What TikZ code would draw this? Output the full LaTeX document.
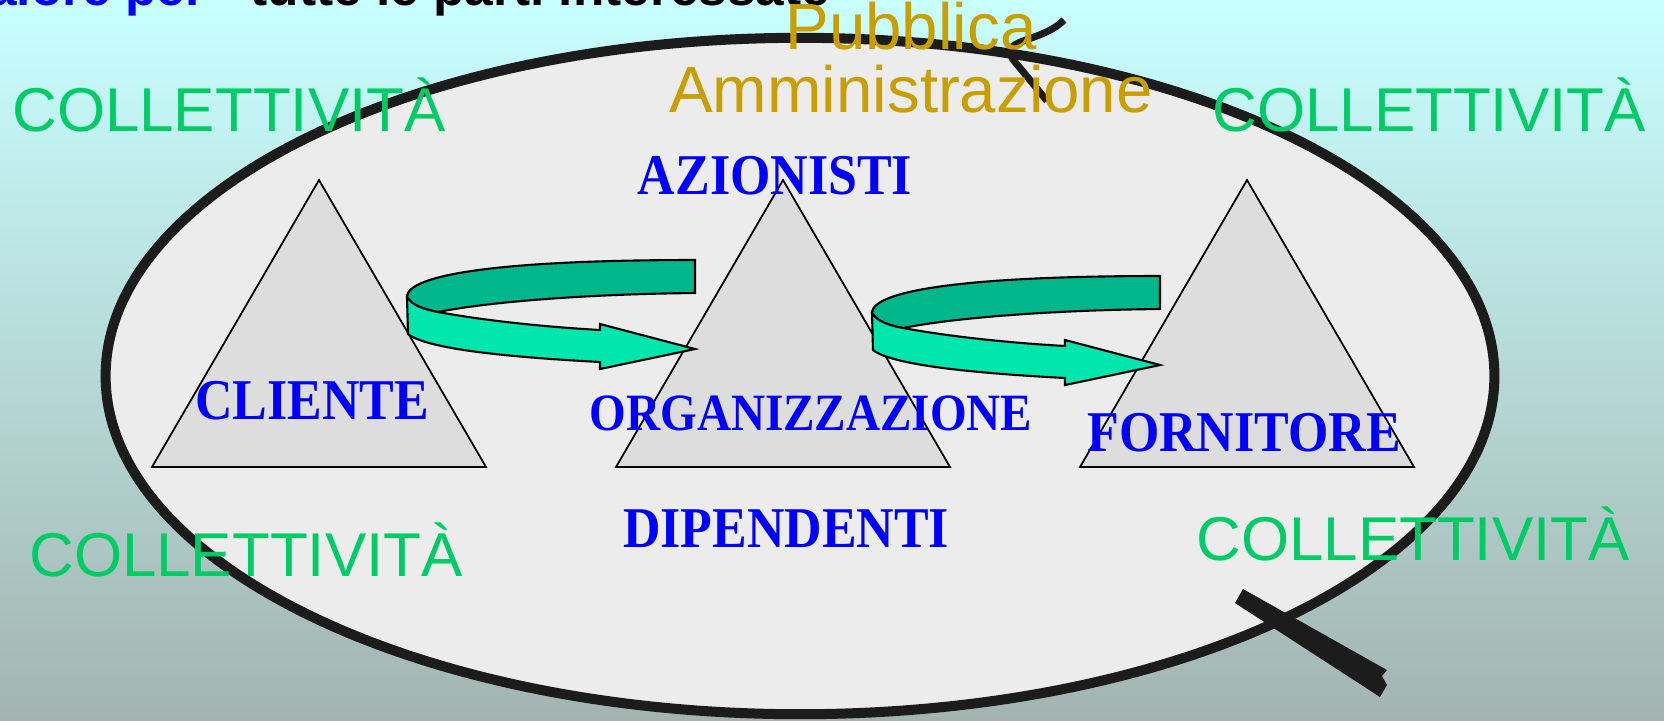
\documentclass[tikz,border=0pt]{standalone}
\usepackage{fontspec}
\setmainfont{Liberation Serif}
\setsansfont{Liberation Sans}
\newfontfamily\rolefont[FakeStretch=0.9]{Liberation Serif}
\usetikzlibrary{positioning}
\definecolor{cblue}{HTML}{0000FF}
\definecolor{cgreen}{HTML}{00CC66}
\definecolor{cgold}{HTML}{C89E00}
\definecolor{cink}{HTML}{1C1C1C}
\definecolor{cstone}{HTML}{ECECEC}
\definecolor{cpeak}{HTML}{DDDDDD}
\definecolor{cdark}{HTML}{00B68A}
\definecolor{clight}{HTML}{00E6AC}
\definecolor{cskytop}{HTML}{C8FFFF}
\definecolor{cskymid}{HTML}{B9E2E2}
\definecolor{cskybot}{HTML}{A3B4B0}
\tikzset{
  role/.style={font=\rolefont\bfseries\fontsize{16.4}{19}\selectfont, text=cblue, inner sep=0pt, anchor=base},
  group/.style={font=\sffamily\fontsize{17.6}{21}\selectfont, text=cgreen, inner sep=0pt, anchor=base},
  pa/.style={font=\sffamily\fontsize{18.6}{22}\selectfont, text=cgold, inner sep=0pt, anchor=base},
  heading/.style={font=\sffamily\bfseries\fontsize{14.6}{17}\selectfont, inner sep=0pt},
  peak/.style={fill=cpeak, draw=black, line width=0.5pt},
  uturn/.pic={
    % back band
    \filldraw[fill=cdark, draw=black, line width=0.6pt]
      (0,0) .. controls (0,-22) and (90,-37) .. (288,-37) -- (288,-4)
      .. controls (180,-3) and (80,5) .. (31,15)
      .. controls (15,12) and (5,8) .. (0,0) -- cycle;
    % front band with head
    \filldraw[fill=clight, draw=black, line width=0.6pt]
      (0,0) .. controls (5,8) and (15,12) .. (31,15)
      .. controls (80,24) and (140,30) .. (193,33) -- (193,27) -- (288,52)
      -- (193,72) -- (193,65) .. controls (100,60) and (20,52) .. (1,37) -- cycle;
  },
}
\begin{document}
\begin{tikzpicture}[x=0.01cm, y=-0.01cm]
  \useasboundingbox (0,0) rectangle (1664,720);
  \clip (0,0) rectangle (1664,720);
  \shade[top color=cskytop, middle color=cskymid, bottom color=cskybot] (0,0) rectangle (1664,720);
  % title line, cut off at the top
  \node[heading, text=cblue, anchor=base east] (lead) at (206,5) {valore per};
  \node[heading, text=black, anchor=base west] (tail) at (250,5) {tutte le parti interessate};
  % the surrounding ellipse
  \draw[cink, fill=cstone, line width=2.85pt] (800,376) ellipse [x radius=6.94cm, y radius=3.38cm];
  \draw[cink, line width=2pt] (1064,20) .. controls (1040,44) and (995,38) .. (1015,62) .. controls (1030,80) .. (1047,101);
  \fill[cink] (1243,589) -- (1387,670) -- (1382,676) -- (1387,685) -- (1380,697) -- (1235,603) -- cycle;
  % the three triangles
  \foreach \cx in {319,783,1247}
    \draw[peak] (\cx,180) -- (\cx+167,467) -- (\cx-167,467) -- cycle;
  \pic at (407,297) {uturn};
  \pic at (872,313) {uturn};
  % labels
  \node[role] (azionisti) at (775,194) {AZIONISTI};
  \node[role] (cliente) at (312,419) {CLIENTE};
  \node[role, font=\rolefont\bfseries\fontsize{14.9}{17}\selectfont] (organizzazione) at (811,430) {ORGANIZZAZIONE};
  \node[role] (fornitore) at (1244,451) {FORNITORE};
  \node[role] (dipendenti) at (786,547) {DIPENDENTI};
  \node[group] (coll-nw) at (229,131) {COLLETTIVITÀ};
  \node[group] (coll-ne) at (1429,131) {COLLETTIVITÀ};
  \node[group] (coll-sw) at (246,576) {COLLETTIVITÀ};
  \node[group] (coll-se) at (1413,560) {COLLETTIVITÀ};
  \node[pa] (pubblica) at (911,49) {Pubblica};
  \node[pa] (amministrazione) at (911,112) {Amministrazione};
\end{tikzpicture}
\end{document}
